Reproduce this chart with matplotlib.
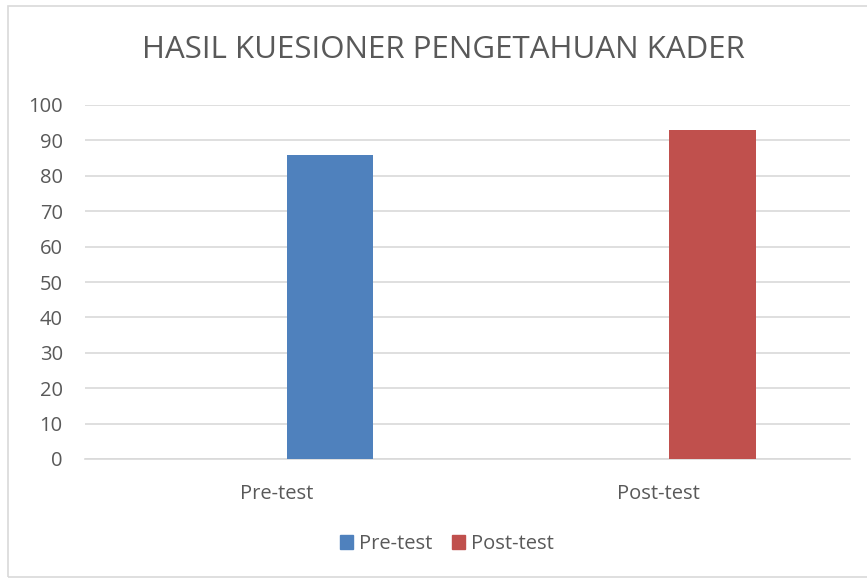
import matplotlib.pyplot as plt
from matplotlib.patches import Rectangle, Patch

# data
categories = ["Pre-test", "Post-test"]
series_names = ["Pre-test", "Post-test"]
values = [86, 93]
colors = ["#4F81BD", "#C0504D"]
yticks = [0, 10, 20, 30, 40, 50, 60, 70, 80, 90, 100]

plt.rcParams['font.family'] = ['Open Sans', 'DejaVu Sans']
txt = "#595959"

fig = plt.figure(figsize=(8.67, 5.79), dpi=100)
ax = fig.add_axes([85 / 867, 1 - 459 / 579, 765 / 867, 354 / 579])

# chart frame
fig.patches.append(Rectangle((8 / 867, 2 / 579), 1.2, 1 - 8 / 579,
                             transform=fig.transFigure, fill=False,
                             edgecolor="#D9D9D9", linewidth=1.2))

xpos = list(range(len(categories)))
for i, v in enumerate(values):
    ax.bar(xpos[i] + 0.1405, v, width=0.225, color=colors[i], zorder=3)

ax.set_xlim(-0.5, 1.5)
ax.set_ylim(0, 100)
ax.set_yticks(yticks)
ax.set_xticks(xpos)
ax.set_xticklabels(categories)
ax.yaxis.grid(True, color="#D9D9D9", linewidth=1.2, zorder=0)
ax.set_axisbelow(True)
for s in ["top", "right", "left"]:
    ax.spines[s].set_visible(False)
ax.spines["bottom"].set_color("#D9D9D9")
ax.spines["bottom"].set_linewidth(1.2)
ax.tick_params(axis="both", length=0, labelsize=14.5, colors=txt)
ax.tick_params(axis="y", pad=16)
ax.tick_params(axis="x", pad=18)

fig.text(443 / 867, 1 - 50 / 579, "HASIL KUESIONER PENGETAHUAN KADER",
         ha="center", va="center", fontsize=22.5, color=txt)

handles = [Patch(color=c, label=n) for c, n in zip(colors, series_names)]
fig.legend(handles=handles, loc="center", bbox_to_anchor=(447 / 867, 1 - 544 / 579),
           ncol=2, frameon=False, fontsize=14.5, labelcolor=txt,
           handlelength=0.65, handleheight=0.65, handletextpad=0.3, columnspacing=1.0)

fig.savefig("out.png", dpi=100)
